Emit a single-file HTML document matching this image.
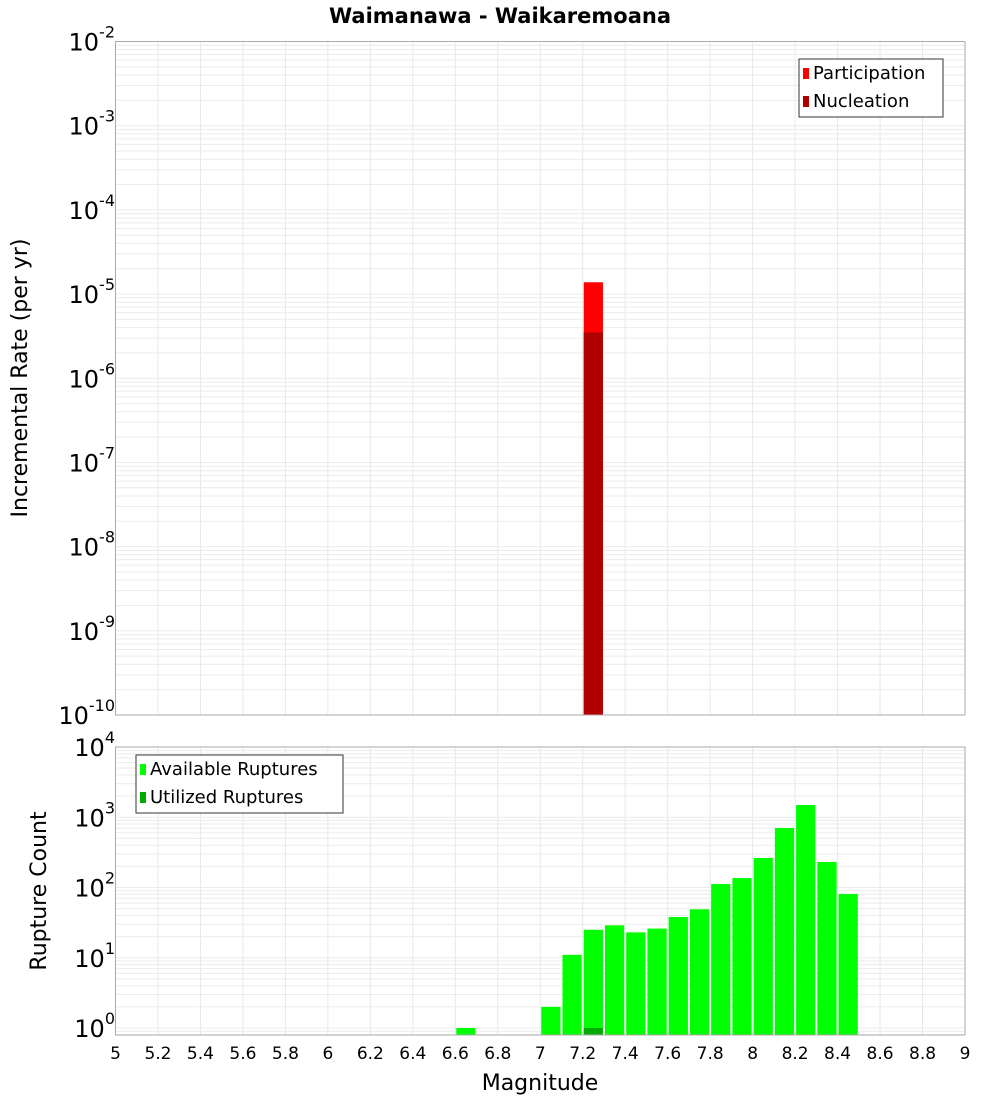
<!DOCTYPE html>
<html><head><meta charset="utf-8"><style>
body{margin:0;background:#fff;}
svg text{font-family:"DejaVu Sans","Liberation Sans",sans-serif;}
</style></head><body>
<svg id="c" width="1000" height="1100" xmlns="http://www.w3.org/2000/svg"></svg>
<script>
const topCategories=[7.25];
const participation=[1.38e-5];
const nucleation=[3.5e-6];
const bottomCategories=[6.65,7.05,7.15,7.25,7.35,7.45,7.55,7.65,7.75,7.85,7.95,8.05,8.15,8.25,8.35,8.45];
const available=[1,2,11,25,29,23,26,38,49,112,136,263,703,1494,231,81];
const utilizedCategories=[7.25];
const utilized=[1];
const xTicks=[5,5.2,5.4,5.6,5.8,6,6.2,6.4,6.6,6.8,7,7.2,7.4,7.6,7.8,8,8.2,8.4,8.6,8.8,9];
const topExp=[-10,-9,-8,-7,-6,-5,-4,-3,-2];
const botExp=[0,1,2,3,4];

const svg=document.getElementById('c');
const NS='http://www.w3.org/2000/svg';
function el(t,a,p){const e=document.createElementNS(NS,t);for(const k in a)e.setAttribute(k,a[k]);(p||svg).appendChild(e);return e;}
const L=115.5,R=965;
const x=v=>L+(v-5)/4*(R-L);
const T1=41.5,B1=715;
const yTop=v=>B1-(Math.log10(v)+10)*(B1-T1)/8;
const T2=747,B2=1035,Z2=1028,D2=70.25;
const yBot=v=>Z2-Math.log10(v)*D2;

// title
let t=el('text',{x:500,y:23,'text-anchor':'middle','font-size':21,'font-weight':'bold'});t.textContent='Waimanawa - Waikaremoana';


function grid(T,B,yf,exps,name){
  const g=el('g',{});
  el('rect',{x:L,y:T,width:R-L,height:B-T,fill:'#fff'},g);
  xTicks.forEach(v=>el('line',{x1:x(v),x2:x(v),y1:T,y2:B,stroke:'#e8e8e8'},g));
  for(let i=0;i<exps.length;i++){const e=exps[i];
    for(let m=1;m<10;m++){const yy=yf(m*Math.pow(10,e));if(yy>=T&&yy<=B)el('line',{x1:L,x2:R,y1:yy,y2:yy,stroke:'#ebebeb'},g);}
  }
  // extra below first decade
  for(let m=2;m<10;m++){const yy=yf(m*Math.pow(10,exps[0]-1));if(yy>=T&&yy<=B)el('line',{x1:L,x2:R,y1:yy,y2:yy,stroke:'#ebebeb'},g);}
  return g;
}
grid(T1,B1,yTop,topExp,'top-plot-grid');
grid(T2,B2,yBot,botExp,'bottom-plot-grid');

const bw=(x(0.1+5)-x(5));
// top bars
topCategories.forEach((c,i)=>{
  let r=el('rect',{x:x(c-0.05)+1,y:yTop(participation[i]),width:bw-2,height:B1-yTop(participation[i]),fill:'#ff0000'});
  
  let n=el('rect',{x:x(c-0.05)+1,y:yTop(nucleation[i]),width:bw-2,height:B1-yTop(nucleation[i]),fill:'#b00000'});
  
});
bottomCategories.forEach((c,i)=>{
  const yy=yBot(available[i]);
  let r=el('rect',{x:x(c-0.05)+1,y:yy,width:bw-2,height:B2-yy,fill:'#00ff00'});
  
});
utilizedCategories.forEach((c,i)=>{
  const yy=yBot(utilized[i]);
  let r=el('rect',{x:x(c-0.05)+1,y:yy,width:bw-2,height:B2-yy,fill:'#00aa00'});
  
});
el('rect',{x:L,y:T1,width:R-L,height:B1-T1,fill:'none',stroke:'#aaa'});
el('rect',{x:L,y:T2,width:R-L,height:B2-T2,fill:'none',stroke:'#aaa'});

// y tick labels
function ylab(yy,e,name){
  const g=el('text',{x:107,y:yy+9,'text-anchor':'end','font-size':24});
  
  const a=el('tspan',{},g);a.textContent='10';
  const b=el('tspan',{dy:-13,'font-size':16},g);b.textContent=String(e);
  g.setAttribute('x',115);
}
topExp.forEach(e=>ylab(yTop(Math.pow(10,e)),e,'top-y-tick-label'));
botExp.forEach(e=>ylab(yBot(Math.pow(10,e)),e,'bottom-y-tick-label'));

xTicks.forEach(v=>{const tt=el('text',{x:x(v),y:1059,'text-anchor':'middle','font-size':17});tt.textContent=String(v);
  });

t=el('text',{x:540,y:1090,'text-anchor':'middle','font-size':22});t.textContent='Magnitude';

t=el('text',{x:0,y:0,'text-anchor':'middle','font-size':22,transform:'translate(27,378) rotate(-90)'});t.textContent='Incremental Rate (per yr)';

t=el('text',{x:0,y:0,'text-anchor':'middle','font-size':22,transform:'translate(46,891) rotate(-90)'});t.textContent='Rupture Count';


function legend(x0,y0,w,items,name){
  const g=el('g',{});
  el('rect',{x:x0,y:y0,width:w,height:58,fill:'#fff',stroke:'#333'},g);
  items.forEach((it,i)=>{
    el('rect',{x:x0+4,y:y0+9+i*28,width:6,height:11,fill:it[1]},g);
    const tx=el('text',{x:x0+14,y:y0+20+i*28,'font-size':18},g);tx.textContent=it[0];
  });
}
legend(799,59,144,[['Participation','#ff0000'],['Nucleation','#b00000']],'top-legend');
legend(136,755,207,[['Available Ruptures','#00ff00'],['Utilized Ruptures','#00aa00']],'bottom-legend');
</script>
</body></html>
